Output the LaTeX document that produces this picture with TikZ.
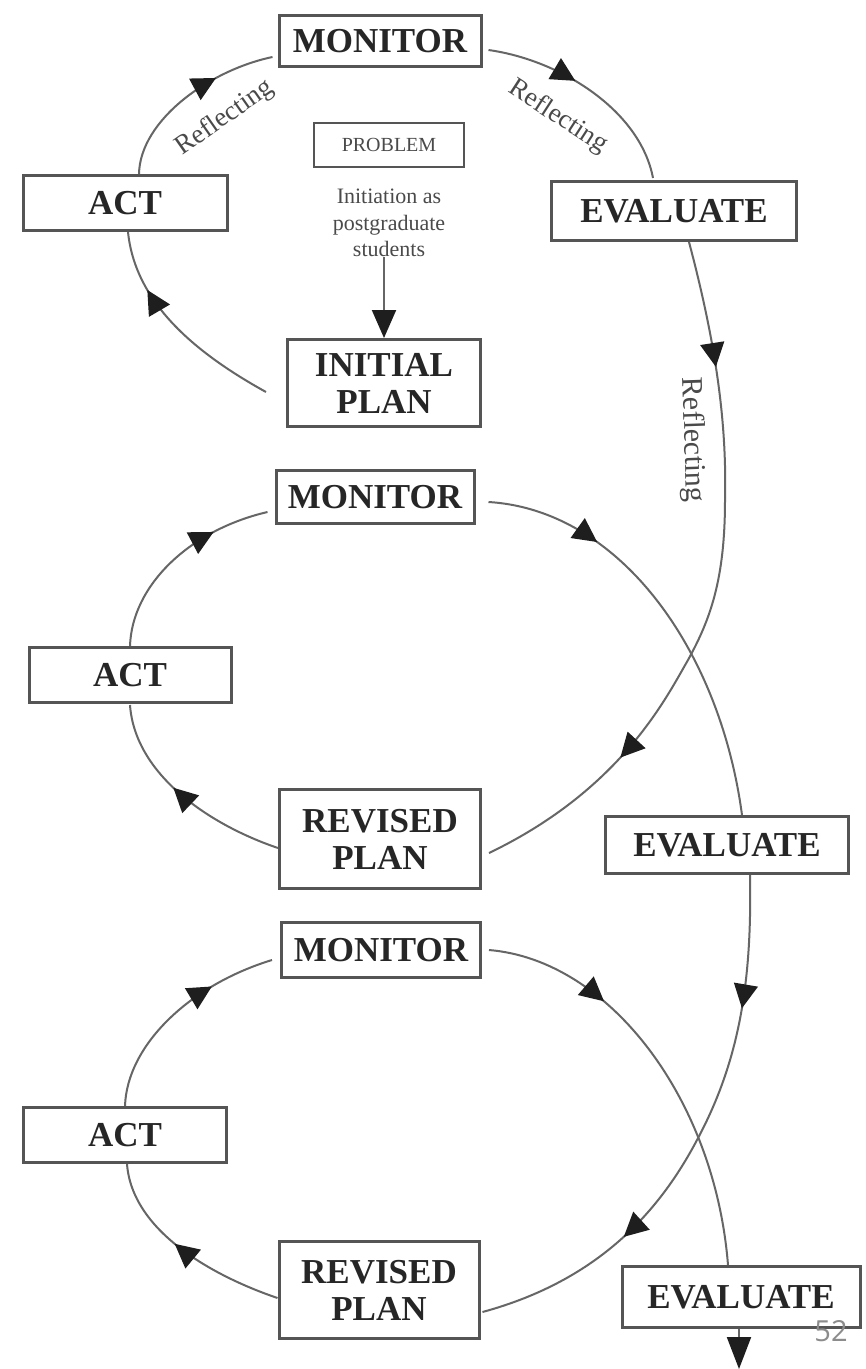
\documentclass[tikz,border=0pt]{standalone}
\usepackage{fontspec}
\setmainfont{Liberation Serif}
\newfontfamily\pagenumfont{Open Sans}
\usetikzlibrary{arrows.meta,decorations.markings}
\definecolor{boxgray}{HTML}{555555}
\definecolor{txtgray}{HTML}{262626}
\definecolor{linegray}{HTML}{666666}
\definecolor{headgray}{HTML}{1e1e1e}
\definecolor{lblgray}{HTML}{4a4a4a}
\definecolor{numgray}{HTML}{8c8c8c}
\tikzset{
  stagebox/.style={draw=boxgray, line width=3pt, fill=white, text=txtgray, inner sep=0pt, align=center, font=\bfseries\fontsize{35}{37}\selectfont},
  link/.style={draw=linegray, line width=2pt},
  headat/.style={postaction={decorate, decoration={markings, mark=at position #1 with {\arrow{Triangle[length=24pt,width=24pt,color=headgray]}}}}},
  refl/.style={font=\fontsize{27}{29}\selectfont, text=lblgray, inner sep=0pt},
}
\begin{document}
\begin{tikzpicture}[x=1pt,y=-1pt]
\fill[white] (0,0) rectangle (866,1369);
\useasboundingbox (0,0) rectangle (866,1369);

% ---- boxes ----
\node[stagebox, minimum width=202pt, minimum height=51pt] (mon1) at (380,41) {MONITOR};
\node[stagebox, minimum width=204pt, minimum height=55pt] (act1) at (125,203) {ACT};
\node[draw=boxgray, line width=2.5pt, minimum width=150pt, minimum height=44pt, inner sep=0pt, text=lblgray, font=\fontsize{20}{22}\selectfont] (prob) at (389,145) {PROBLEM};
\node[align=center, inner sep=0pt, text=lblgray, font=\fontsize{22}{26.5}\selectfont] (txt) at (389,223) {Initiation as\\postgraduate\\students};
\node[stagebox, minimum width=193pt, minimum height=87pt] (init) at (384,383) {INITIAL\\PLAN};
\node[stagebox, minimum width=245pt, minimum height=59pt] (eval1) at (674,211) {EVALUATE};

\node[stagebox, minimum width=198pt, minimum height=53pt] (mon2) at (375,497) {MONITOR};
\node[stagebox, minimum width=202pt, minimum height=55pt] (act2) at (130,675) {ACT};
\node[stagebox, minimum width=201pt, minimum height=99pt] (rev1) at (380,839) {REVISED\\PLAN};
\node[stagebox, minimum width=243pt, minimum height=57pt] (eval2) at (727,845) {EVALUATE};

\node[stagebox, minimum width=199pt, minimum height=55pt] (mon3) at (381,950) {MONITOR};
\node[stagebox, minimum width=203pt, minimum height=55pt] (act3) at (125,1135) {ACT};
\node[stagebox, minimum width=200pt, minimum height=97pt] (rev2) at (379,1290) {REVISED\\PLAN};
\node[stagebox, minimum width=238pt, minimum height=61pt] (eval3) at (741,1297) {EVALUATE};

\coordinate (end3) at (739,1369);

% ---- cycle 1 ----
\draw[link, headat=0.72] ([shift={(-20,9)}]init.west) .. controls (190,350) and (135,300) .. ([shift={(3,0)}]act1.south);
\draw[link, headat=0.68] ([shift={(14,0)}]act1.north) .. controls (140,120) and (210,70) .. ([shift={(-5,-11)}]mon1.south west);
\draw[link, headat=0.42] ([shift={(6,9)}]mon1.east) .. controls (560,60) and (640,110) .. ([shift={(-21,-2)}]eval1.north);
\draw[link, headat=0.18, headat=0.77] ([shift={(15,0)}]eval1.south) .. controls (715,340) and (727,420) .. (725,500)
   .. controls (725,580) and (710,620) .. (688,660) .. controls (665,700) and (620,790) .. ([shift={(7,14)}]rev1.east);
\draw[link, -{Triangle[length=28pt,width=24pt,color=headgray]}] (init.north |- txt.south) -- (init.north);

% ---- cycle 2 ----
\draw[link, headat=0.27] ([shift={(13,5)}]mon2.east) .. controls (620,510) and (720,650) .. ([shift={(15,0)}]eval2.north);
\draw[link, headat=0.56] ([shift={(0,9)}]rev1.west) .. controls (210,825) and (135,775) .. ([shift={(0,1)}]act2.south);
\draw[link, headat=0.72] (act2.north) .. controls (132,585) and (190,530) .. ([shift={(-7,-13)}]mon2.south west);
\draw[link, headat=0.24, headat=0.71] ([shift={(23,0)}]eval2.south) .. controls (752,980) and (740,1060) .. (697,1140)
   .. controls (660,1210) and (600,1280) .. ([shift={(2,22)}]rev2.east);

% ---- cycle 3 ----
\draw[link, headat=0.3] ([shift={(7,0)}]mon3.east) .. controls (610,960) and (715,1100) .. ([shift={(-13,0)}]eval3.north);
\draw[link, headat=0.55] ([shift={(0,8)}]rev2.west) .. controls (210,1275) and (132,1230) .. ([shift={(2,0)}]act3.south);
\draw[link, headat=0.7] (act3.north) .. controls (127,1045) and (190,985) .. ([shift={(-8,-19)}]mon3.south west);
\draw[link, -{Triangle[length=32pt,width=24pt,color=headgray]}] ([shift={(-2,0)}]eval3.south) -- (end3);

% ---- labels ----
\node[refl, rotate=35] (r1) at (225,118) {Reflecting};
\node[refl, rotate=-33] (r2) at (558,117) {Reflecting};
\node[refl, rotate=-88, font=\fontsize{30}{32}\selectfont] (r3) at (692,440) {Reflecting};

\node[text=numgray, inner sep=0pt, font=\pagenumfont\fontsize{29}{30}\selectfont] (pg) at (831,1331) {52};
\end{tikzpicture}
\end{document}
